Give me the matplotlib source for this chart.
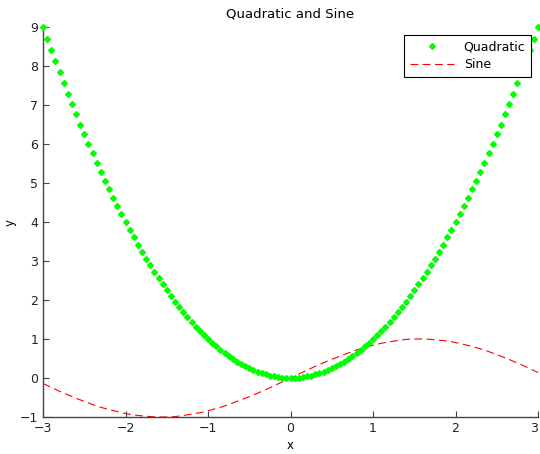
import matplotlib
matplotlib.use("Agg")
import matplotlib.pyplot as plt

# quadratic samples, x from -3 to 3 in 0.05 steps
x_quad = [-3.00, -2.95, -2.90, -2.85, -2.80, -2.75, -2.70, -2.65, -2.60, -2.55,
          -2.50, -2.45, -2.40, -2.35, -2.30, -2.25, -2.20, -2.15, -2.10, -2.05,
          -2.00, -1.95, -1.90, -1.85, -1.80, -1.75, -1.70, -1.65, -1.60, -1.55,
          -1.50, -1.45, -1.40, -1.35, -1.30, -1.25, -1.20, -1.15, -1.10, -1.05,
          -1.00, -0.95, -0.90, -0.85, -0.80, -0.75, -0.70, -0.65, -0.60, -0.55,
          -0.50, -0.45, -0.40, -0.35, -0.30, -0.25, -0.20, -0.15, -0.10, -0.05,
          0.00, 0.05, 0.10, 0.15, 0.20, 0.25, 0.30, 0.35, 0.40, 0.45,
          0.50, 0.55, 0.60, 0.65, 0.70, 0.75, 0.80, 0.85, 0.90, 0.95,
          1.00, 1.05, 1.10, 1.15, 1.20, 1.25, 1.30, 1.35, 1.40, 1.45,
          1.50, 1.55, 1.60, 1.65, 1.70, 1.75, 1.80, 1.85, 1.90, 1.95,
          2.00, 2.05, 2.10, 2.15, 2.20, 2.25, 2.30, 2.35, 2.40, 2.45,
          2.50, 2.55, 2.60, 2.65, 2.70, 2.75, 2.80, 2.85, 2.90, 2.95, 3.00]
y_quad = [9.00, 8.70, 8.41, 8.12, 7.84, 7.56, 7.29, 7.02, 6.76, 6.50,
          6.25, 6.00, 5.76, 5.52, 5.29, 5.06, 4.84, 4.62, 4.41, 4.20,
          4.00, 3.80, 3.61, 3.42, 3.24, 3.06, 2.89, 2.72, 2.56, 2.40,
          2.25, 2.10, 1.96, 1.82, 1.69, 1.56, 1.44, 1.32, 1.21, 1.10,
          1.00, 0.90, 0.81, 0.72, 0.64, 0.56, 0.49, 0.42, 0.36, 0.30,
          0.25, 0.20, 0.16, 0.12, 0.09, 0.06, 0.04, 0.02, 0.01, 0.00,
          0.00, 0.00, 0.01, 0.02, 0.04, 0.06, 0.09, 0.12, 0.16, 0.20,
          0.25, 0.30, 0.36, 0.42, 0.49, 0.56, 0.64, 0.72, 0.81, 0.90,
          1.00, 1.10, 1.21, 1.32, 1.44, 1.56, 1.69, 1.82, 1.96, 2.10,
          2.25, 2.40, 2.56, 2.72, 2.89, 3.06, 3.24, 3.42, 3.61, 3.80,
          4.00, 4.20, 4.41, 4.62, 4.84, 5.06, 5.29, 5.52, 5.76, 6.00,
          6.25, 6.50, 6.76, 7.02, 7.29, 7.56, 7.84, 8.12, 8.41, 8.70, 9.00]

# sine samples, x from -3 to 3 in 0.1 steps
x_sine = [-3.0, -2.9, -2.8, -2.7, -2.6, -2.5, -2.4, -2.3, -2.2, -2.1,
          -2.0, -1.9, -1.8, -1.7, -1.6, -1.5, -1.4, -1.3, -1.2, -1.1,
          -1.0, -0.9, -0.8, -0.7, -0.6, -0.5, -0.4, -0.3, -0.2, -0.1,
          0.0, 0.1, 0.2, 0.3, 0.4, 0.5, 0.6, 0.7, 0.8, 0.9,
          1.0, 1.1, 1.2, 1.3, 1.4, 1.5, 1.6, 1.7, 1.8, 1.9,
          2.0, 2.1, 2.2, 2.3, 2.4, 2.5, 2.6, 2.7, 2.8, 2.9, 3.0]
y_sine = [-0.14, -0.24, -0.34, -0.43, -0.52, -0.60, -0.68, -0.75, -0.81, -0.86,
          -0.91, -0.95, -0.97, -0.99, -1.00, -1.00, -0.99, -0.96, -0.93, -0.89,
          -0.84, -0.78, -0.72, -0.64, -0.56, -0.48, -0.39, -0.30, -0.20, -0.10,
          0.00, 0.10, 0.20, 0.30, 0.39, 0.48, 0.56, 0.64, 0.72, 0.78,
          0.84, 0.89, 0.93, 0.96, 0.99, 1.00, 1.00, 0.99, 0.97, 0.95,
          0.91, 0.86, 0.81, 0.75, 0.68, 0.60, 0.52, 0.43, 0.34, 0.24, 0.14]

x_ticks = [-3, -2, -1, 0, 1, 2, 3]
y_ticks = [-1, 0, 1, 2, 3, 4, 5, 6, 7, 8, 9]

fig = plt.figure(figsize=(5.4, 4.54), dpi=100)
ax = fig.add_axes([43/540, 37/454, 495/540, 390/454])

ax.plot(x_quad, y_quad, linestyle='none', marker='D', markersize=3,
        color=(0, 1, 0), label='Quadratic', clip_on=False, zorder=3)
ax.plot(x_sine, y_sine, linestyle=(0, (7, 4)), linewidth=0.8,
        color=(1, 0, 0), label='Sine')

ax.set_xlim(-3, 3)
ax.set_ylim(-1, 9)
ax.set_xticks(x_ticks)
ax.set_yticks(y_ticks)
ax.set_xticklabels(['\u22123', '\u22122', '\u22121', '0', '1', '2', '3'])
ax.set_yticklabels(['\u22121'] + [str(v) for v in y_ticks[1:]])

for s in ['top', 'right']:
    ax.spines[s].set_visible(False)
for s in ['left', 'bottom']:
    ax.spines[s].set_color('#444444')
    ax.spines[s].set_linewidth(1.0)
ax.tick_params(direction='in', length=4, color='#444444', labelcolor='#222222',
               labelsize=9)
xt = ax.get_xticklabels()
xt[-1].set_horizontalalignment('right')

ax.set_title('Quadratic and Sine', fontsize=9.5, pad=7)
ax.set_xlabel('x', fontsize=8.5, labelpad=3)
ax.set_ylabel('y', fontsize=8.5, va='center')
ax.yaxis.set_label_coords(-0.066, 0.5)

leg = ax.legend(loc='upper right', bbox_to_anchor=(0.986, 0.979),
                borderaxespad=0, fontsize=9,
                handlelength=3.5, fancybox=False, framealpha=1,
                edgecolor='black', borderpad=0.45, labelspacing=0.35,
                numpoints=1)
leg.get_frame().set_linewidth(0.8)

fig.savefig('out.png', dpi=100)
